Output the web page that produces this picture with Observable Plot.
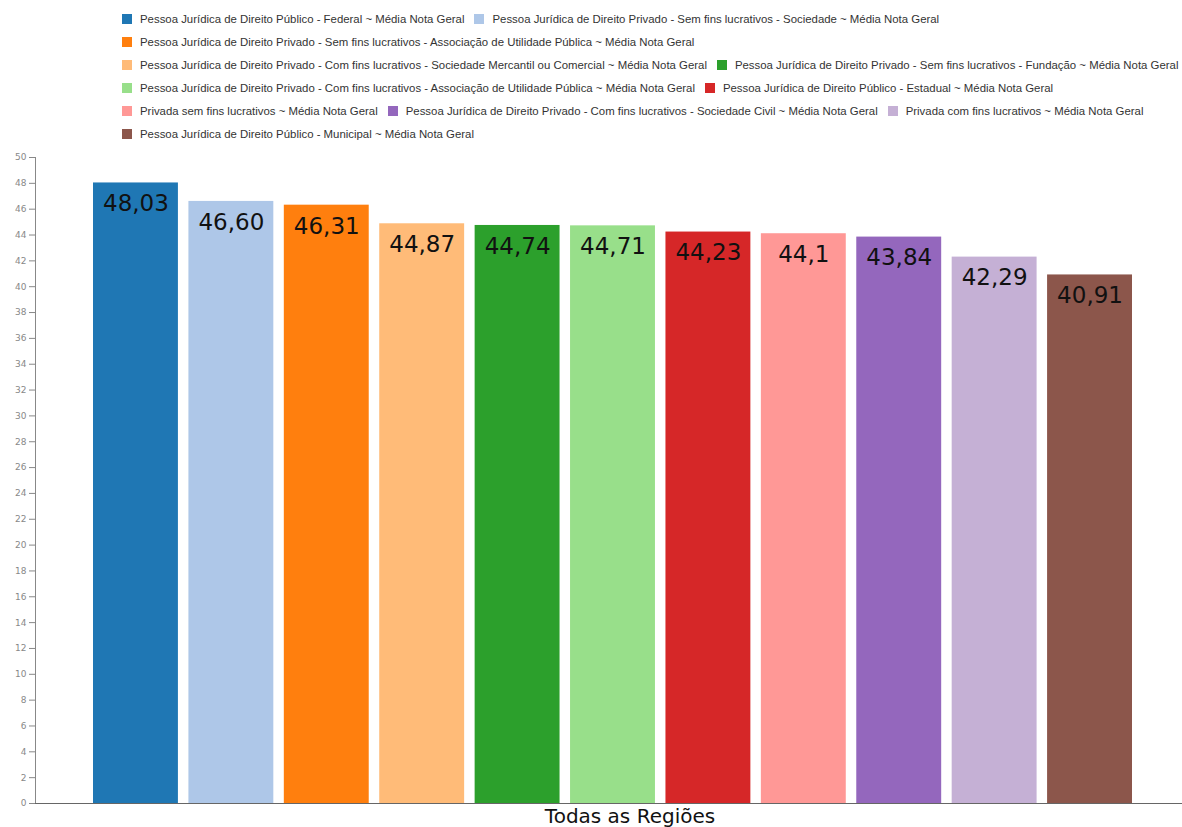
<!DOCTYPE html>
<html>
<head>
<meta charset="utf-8">
<script src="https://cdn.jsdelivr.net/npm/d3@7"></script>
<script src="https://cdn.jsdelivr.net/npm/@observablehq/plot@0.6"></script>
<style>
  html, body { margin: 0; padding: 0; background: #fff; }
  #legend {
    position: absolute; left: 122px; top: 7px; width: 1062px;
    display: flex; flex-wrap: wrap; column-gap: 10px;
    font-family: "Liberation Sans", Arial, sans-serif; font-size: 11.4px; color: #333;
  }
  .item { display: flex; align-items: center; height: 23px; white-space: nowrap; }
  .sw { width: 10px; height: 10px; margin-right: 8px; }
  #chart { position: absolute; left: 0; top: 150px; }
</style>
</head>
<body>
<div id="legend"></div>
<div id="chart"></div>
<script>
const categories = [
  "Pessoa Jurídica de Direito Público - Federal ~ Média Nota Geral",
  "Pessoa Jurídica de Direito Privado - Sem fins lucrativos - Sociedade ~ Média Nota Geral",
  "Pessoa Jurídica de Direito Privado - Sem fins lucrativos - Associação de Utilidade Pública ~ Média Nota Geral",
  "Pessoa Jurídica de Direito Privado - Com fins lucrativos - Sociedade Mercantil ou Comercial ~ Média Nota Geral",
  "Pessoa Jurídica de Direito Privado - Sem fins lucrativos - Fundação ~ Média Nota Geral",
  "Pessoa Jurídica de Direito Privado - Com fins lucrativos - Associação de Utilidade Pública ~ Média Nota Geral",
  "Pessoa Jurídica de Direito Público - Estadual ~ Média Nota Geral",
  "Privada sem fins lucrativos ~ Média Nota Geral",
  "Pessoa Jurídica de Direito Privado - Com fins lucrativos - Sociedade Civil ~ Média Nota Geral",
  "Privada com fins lucrativos ~ Média Nota Geral",
  "Pessoa Jurídica de Direito Público - Municipal ~ Média Nota Geral"
];
const values = [48.03, 46.60, 46.31, 44.87, 44.74, 44.71, 44.23, 44.1, 43.84, 42.29, 40.91];
const valueLabels = ["48,03", "46,60", "46,31", "44,87", "44,74", "44,71", "44,23", "44,1", "43,84", "42,29", "40,91"];
const colors = ["#1f77b4", "#aec7e8", "#ff7f0e", "#ffbb78", "#2ca02c", "#98df8a", "#d62728", "#ff9896", "#9467bd", "#c5b0d5", "#8c564b"];
const yTicks = d3.range(0, 51, 2);
const xTitle = "Todas as Regiões";

const data = categories.map((c, i) => ({category: c, value: values[i], label: valueLabels[i]}));

// legend
const legend = d3.select("#legend");
categories.forEach((c, i) => {
  const it = legend.append("div").attr("class", "item");
  it.append("div").attr("class", "sw").style("background", colors[i]);
  it.append("span").text(c);
});

const chart = Plot.plot({
  width: 1182,
  height: 677,
  marginLeft: 35,
  marginRight: 0,
  marginTop: 7,
  marginBottom: 24,
  style: {fontFamily: "'DejaVu Sans', Verdana, sans-serif", background: "#fff"},
  x: {domain: categories, range: [93, 1132], paddingInner: 0.11, paddingOuter: 0, round: false, axis: null},
  y: {domain: [0, 50]},
  color: {domain: categories, range: colors},
  marks: [
    Plot.barY(data, {x: "category", y: "value", fill: "category"}),
    Plot.text(data, {x: "category", y: "value", text: "label", dy: 21, fontSize: 23, fill: "#111"}),
    Plot.axisY({ticks: yTicks, tickSize: 6, tickPadding: 3, fontSize: 9, color: "#888", label: null}),
    Plot.frame({anchor: "left", stroke: "#888"}),
    Plot.ruleY([0], {stroke: "#666"}),
    Plot.text([xTitle], {frameAnchor: "bottom", dx: 21, dy: 19, fontSize: 20, fill: "#111"})
  ]
});
document.getElementById("chart").append(chart);
</script>
</body>
</html>
